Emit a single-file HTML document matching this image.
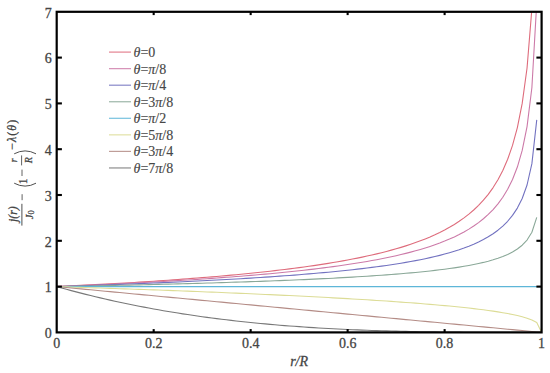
<!DOCTYPE html>
<html><head><meta charset="utf-8"><style>
html,body{margin:0;padding:0;background:#fff;}
body{width:550px;height:373px;overflow:hidden;}
svg{display:block;}
.lg{fill:#474747;stroke:#474747;stroke-width:0.2px;}
text{font-family:"Liberation Serif",serif;font-size:14px;fill:#444444;stroke:#444444;stroke-width:0.28px;}
</style></head><body>
<svg width="550" height="373" viewBox="0 0 550 373">
<defs><clipPath id="c"><rect x="56.7" y="11.8" width="484.90000000000003" height="320.59999999999997"/></clipPath></defs>
<rect width="550" height="373" fill="#fff"/>
<g clip-path="url(#c)" fill="none" stroke-width="1.1" stroke-linejoin="round">
<polyline points="56.70,286.60 61.55,286.37 66.40,286.14 71.25,285.90 76.10,285.66 80.95,285.41 85.79,285.16 90.64,284.91 95.49,284.65 100.34,284.39 105.19,284.12 110.04,283.85 114.89,283.58 119.74,283.30 124.59,283.01 129.44,282.72 134.28,282.43 139.13,282.13 143.98,281.82 148.83,281.51 153.68,281.19 158.53,280.87 163.38,280.54 168.23,280.21 173.08,279.86 177.93,279.51 182.77,279.16 187.62,278.80 192.47,278.42 197.32,278.05 202.17,277.66 207.02,277.26 211.87,276.86 216.72,276.45 221.57,276.02 226.42,275.59 231.26,275.15 236.11,274.70 240.96,274.23 245.81,273.76 250.66,273.27 255.51,272.77 260.36,272.26 265.21,271.74 270.06,271.20 274.91,270.64 279.75,270.07 284.60,269.49 289.45,268.89 294.30,268.27 299.15,267.63 304.00,266.97 308.85,266.29 313.70,265.59 318.55,264.87 323.40,264.13 328.24,263.35 333.09,262.56 337.94,261.73 342.79,260.87 347.64,259.98 352.49,259.06 357.34,258.10 362.19,257.11 367.04,256.07 371.89,254.98 376.73,253.85 381.58,252.67 386.43,251.44 391.28,250.14 396.13,248.78 400.98,247.35 405.83,245.85 410.68,244.26 415.53,242.58 420.38,240.80 425.22,238.91 430.07,236.90 434.92,234.75 439.77,232.46 444.62,229.99 449.47,227.33 454.32,224.45 459.17,221.32 464.02,217.90 468.87,214.14 473.71,209.99 478.56,205.37 483.41,200.19 488.26,194.31 493.11,187.57 497.96,179.73 502.81,170.47 507.66,159.29 512.51,145.42 517.36,127.58 522.20,103.40 527.05,67.97 531.90,8.55 536.75,-125.60" stroke="#de6c7c" />
<polyline points="56.70,286.60 61.55,286.40 66.40,286.20 71.25,286.00 76.10,285.79 80.95,285.58 85.79,285.37 90.64,285.15 95.49,284.93 100.34,284.71 105.19,284.48 110.04,284.25 114.89,284.02 119.74,283.78 124.59,283.54 129.44,283.30 134.28,283.05 139.13,282.79 143.98,282.53 148.83,282.27 153.68,282.00 158.53,281.73 163.38,281.45 168.23,281.17 173.08,280.88 177.93,280.59 182.77,280.29 187.62,279.99 192.47,279.68 197.32,279.36 202.17,279.04 207.02,278.71 211.87,278.37 216.72,278.02 221.57,277.67 226.42,277.31 231.26,276.95 236.11,276.57 240.96,276.19 245.81,275.79 250.66,275.39 255.51,274.98 260.36,274.56 265.21,274.12 270.06,273.68 274.91,273.22 279.75,272.76 284.60,272.28 289.45,271.79 294.30,271.28 299.15,270.76 304.00,270.22 308.85,269.67 313.70,269.10 318.55,268.52 323.40,267.91 328.24,267.29 333.09,266.64 337.94,265.98 342.79,265.29 347.64,264.57 352.49,263.83 357.34,263.06 362.19,262.27 367.04,261.44 371.89,260.58 376.73,259.68 381.58,258.74 386.43,257.76 391.28,256.74 396.13,255.67 400.98,254.55 405.83,253.37 410.68,252.13 415.53,250.82 420.38,249.44 425.22,247.97 430.07,246.42 434.92,244.76 439.77,243.00 444.62,241.11 449.47,239.08 454.32,236.89 459.17,234.52 464.02,231.95 468.87,229.13 473.71,226.03 478.56,222.60 483.41,218.77 488.26,214.45 493.11,209.53 497.96,203.86 502.81,197.20 507.66,189.24 512.51,179.46 517.36,167.03 522.20,150.44 527.05,126.56 531.90,87.50 536.75,2.78" stroke="#cc7aa8" />
<polyline points="56.70,286.60 61.55,286.45 66.40,286.29 71.25,286.13 76.10,285.97 80.95,285.81 85.79,285.65 90.64,285.48 95.49,285.31 100.34,285.14 105.19,284.96 110.04,284.79 114.89,284.61 119.74,284.42 124.59,284.24 129.44,284.05 134.28,283.86 139.13,283.67 143.98,283.47 148.83,283.27 153.68,283.06 158.53,282.86 163.38,282.65 168.23,282.43 173.08,282.21 177.93,281.99 182.77,281.76 187.62,281.53 192.47,281.30 197.32,281.06 202.17,280.82 207.02,280.57 211.87,280.32 216.72,280.06 221.57,279.80 226.42,279.53 231.26,279.25 236.11,278.97 240.96,278.69 245.81,278.40 250.66,278.10 255.51,277.79 260.36,277.48 265.21,277.16 270.06,276.83 274.91,276.50 279.75,276.16 284.60,275.81 289.45,275.45 294.30,275.08 299.15,274.70 304.00,274.31 308.85,273.91 313.70,273.49 318.55,273.07 323.40,272.63 328.24,272.18 333.09,271.72 337.94,271.24 342.79,270.75 347.64,270.24 352.49,269.71 357.34,269.17 362.19,268.60 367.04,268.02 371.89,267.41 376.73,266.78 381.58,266.12 386.43,265.44 391.28,264.73 396.13,263.98 400.98,263.21 405.83,262.39 410.68,261.54 415.53,260.64 420.38,259.70 425.22,258.70 430.07,257.65 434.92,256.53 439.77,255.35 444.62,254.08 449.47,252.73 454.32,251.28 459.17,249.72 464.02,248.04 468.87,246.20 473.71,244.20 478.56,241.99 483.41,239.55 488.26,236.81 493.11,233.73 497.96,230.20 502.81,226.11 507.66,221.27 512.51,215.41 517.36,208.08 522.20,198.48 527.05,185.00 531.90,163.67 536.75,119.82" stroke="#7272c0" />
<polyline points="56.70,286.60 61.55,286.51 66.40,286.41 71.25,286.32 76.10,286.22 80.95,286.13 85.79,286.03 90.64,285.93 95.49,285.83 100.34,285.73 105.19,285.62 110.04,285.52 114.89,285.41 119.74,285.31 124.59,285.20 129.44,285.09 134.28,284.97 139.13,284.86 143.98,284.75 148.83,284.63 153.68,284.51 158.53,284.39 163.38,284.27 168.23,284.14 173.08,284.02 177.93,283.89 182.77,283.76 187.62,283.62 192.47,283.49 197.32,283.35 202.17,283.21 207.02,283.07 211.87,282.93 216.72,282.78 221.57,282.63 226.42,282.48 231.26,282.32 236.11,282.17 240.96,282.01 245.81,281.84 250.66,281.67 255.51,281.50 260.36,281.33 265.21,281.15 270.06,280.97 274.91,280.78 279.75,280.59 284.60,280.40 289.45,280.20 294.30,280.00 299.15,279.79 304.00,279.58 308.85,279.36 313.70,279.13 318.55,278.90 323.40,278.67 328.24,278.43 333.09,278.18 337.94,277.92 342.79,277.66 347.64,277.39 352.49,277.11 357.34,276.82 362.19,276.52 367.04,276.22 371.89,275.90 376.73,275.57 381.58,275.23 386.43,274.88 391.28,274.51 396.13,274.13 400.98,273.73 405.83,273.32 410.68,272.89 415.53,272.44 420.38,271.97 425.22,271.47 430.07,270.95 434.92,270.40 439.77,269.82 444.62,269.21 449.47,268.56 454.32,267.86 459.17,267.12 464.02,266.32 468.87,265.47 473.71,264.54 478.56,263.52 483.41,262.41 488.26,261.18 493.11,259.81 497.96,258.27 502.81,256.50 507.66,254.44 512.51,252.00 517.36,249.02 522.20,245.21 527.05,240.05 531.90,232.25 536.75,217.36" stroke="#8aa898" />
<polyline points="56.70,286.60 61.55,286.60 66.40,286.60 71.25,286.60 76.10,286.60 80.95,286.60 85.79,286.60 90.64,286.60 95.49,286.60 100.34,286.60 105.19,286.60 110.04,286.60 114.89,286.60 119.74,286.60 124.59,286.60 129.44,286.60 134.28,286.60 139.13,286.60 143.98,286.60 148.83,286.60 153.68,286.60 158.53,286.60 163.38,286.60 168.23,286.60 173.08,286.60 177.93,286.60 182.77,286.60 187.62,286.60 192.47,286.60 197.32,286.60 202.17,286.60 207.02,286.60 211.87,286.60 216.72,286.60 221.57,286.60 226.42,286.60 231.26,286.60 236.11,286.60 240.96,286.60 245.81,286.60 250.66,286.60 255.51,286.60 260.36,286.60 265.21,286.60 270.06,286.60 274.91,286.60 279.75,286.60 284.60,286.60 289.45,286.60 294.30,286.60 299.15,286.60 304.00,286.60 308.85,286.60 313.70,286.60 318.55,286.60 323.40,286.60 328.24,286.60 333.09,286.60 337.94,286.60 342.79,286.60 347.64,286.60 352.49,286.60 357.34,286.60 362.19,286.60 367.04,286.60 371.89,286.60 376.73,286.60 381.58,286.60 386.43,286.60 391.28,286.60 396.13,286.60 400.98,286.60 405.83,286.60 410.68,286.60 415.53,286.60 420.38,286.60 425.22,286.60 430.07,286.60 434.92,286.60 439.77,286.60 444.62,286.60 449.47,286.60 454.32,286.60 459.17,286.60 464.02,286.60 468.87,286.60 473.71,286.60 478.56,286.60 483.41,286.60 488.26,286.60 493.11,286.60 497.96,286.60 502.81,286.60 507.66,286.60 512.51,286.60 517.36,286.60 522.20,286.60 527.05,286.60 531.90,286.60 536.75,286.60 541.60,286.60" stroke="#5eb6d8" />
<polyline points="56.70,286.60 61.55,286.75 66.40,286.91 71.25,287.06 76.10,287.22 80.95,287.38 85.79,287.53 90.64,287.69 95.49,287.86 100.34,288.02 105.19,288.18 110.04,288.34 114.89,288.51 119.74,288.68 124.59,288.85 129.44,289.02 134.28,289.19 139.13,289.36 143.98,289.53 148.83,289.71 153.68,289.88 158.53,290.06 163.38,290.24 168.23,290.42 173.08,290.60 177.93,290.79 182.77,290.97 187.62,291.16 192.47,291.35 197.32,291.54 202.17,291.73 207.02,291.93 211.87,292.13 216.72,292.32 221.57,292.52 226.42,292.73 231.26,292.93 236.11,293.14 240.96,293.35 245.81,293.56 250.66,293.77 255.51,293.99 260.36,294.20 265.21,294.43 270.06,294.65 274.91,294.88 279.75,295.10 284.60,295.34 289.45,295.57 294.30,295.81 299.15,296.05 304.00,296.29 308.85,296.54 313.70,296.79 318.55,297.04 323.40,297.30 328.24,297.56 333.09,297.83 337.94,298.10 342.79,298.38 347.64,298.65 352.49,298.94 357.34,299.23 362.19,299.52 367.04,299.82 371.89,300.12 376.73,300.43 381.58,300.75 386.43,301.07 391.28,301.40 396.13,301.74 400.98,302.08 405.83,302.44 410.68,302.80 415.53,303.17 420.38,303.55 425.22,303.94 430.07,304.34 434.92,304.75 439.77,305.18 444.62,305.62 449.47,306.07 454.32,306.54 459.17,307.03 464.02,307.54 468.87,308.07 473.71,308.62 478.56,309.20 483.41,309.81 488.26,310.46 493.11,311.14 497.96,311.88 502.81,312.67 507.66,313.52 512.51,314.47 517.36,315.53 522.20,316.74 527.05,318.17 531.90,319.97 536.75,322.53 541.60,332.40" stroke="#dcdc96" />
<polyline points="56.70,286.60 61.55,287.06 66.40,287.52 71.25,287.97 76.10,288.43 80.95,288.89 85.79,289.35 90.64,289.81 95.49,290.26 100.34,290.72 105.19,291.18 110.04,291.64 114.89,292.10 119.74,292.55 124.59,293.01 129.44,293.47 134.28,293.93 139.13,294.39 143.98,294.84 148.83,295.30 153.68,295.76 158.53,296.22 163.38,296.68 168.23,297.13 173.08,297.59 177.93,298.05 182.77,298.51 187.62,298.97 192.47,299.42 197.32,299.88 202.17,300.34 207.02,300.80 211.87,301.26 216.72,301.71 221.57,302.17 226.42,302.63 231.26,303.09 236.11,303.55 240.96,304.00 245.81,304.46 250.66,304.92 255.51,305.38 260.36,305.84 265.21,306.29 270.06,306.75 274.91,307.21 279.75,307.67 284.60,308.13 289.45,308.58 294.30,309.04 299.15,309.50 304.00,309.96 308.85,310.42 313.70,310.87 318.55,311.33 323.40,311.79 328.24,312.25 333.09,312.71 337.94,313.16 342.79,313.62 347.64,314.08 352.49,314.54 357.34,315.00 362.19,315.45 367.04,315.91 371.89,316.37 376.73,316.83 381.58,317.29 386.43,317.74 391.28,318.20 396.13,318.66 400.98,319.12 405.83,319.58 410.68,320.03 415.53,320.49 420.38,320.95 425.22,321.41 430.07,321.87 434.92,322.32 439.77,322.78 444.62,323.24 449.47,323.70 454.32,324.16 459.17,324.61 464.02,325.07 468.87,325.53 473.71,325.99 478.56,326.45 483.41,326.90 488.26,327.36 493.11,327.82 497.96,328.28 502.81,328.74 507.66,329.19 512.51,329.65 517.36,330.11 522.20,330.57 527.05,331.03 531.90,331.48 536.75,331.94 541.60,332.40" stroke="#b48c86" />
<polyline points="56.70,286.60 61.55,287.96 66.40,289.29 71.25,290.60 76.10,291.88 80.95,293.13 85.79,294.36 90.64,295.56 95.49,296.74 100.34,297.89 105.19,299.01 110.04,300.11 114.89,301.19 119.74,302.24 124.59,303.27 129.44,304.27 134.28,305.25 139.13,306.21 143.98,307.15 148.83,308.06 153.68,308.95 158.53,309.82 163.38,310.67 168.23,311.49 173.08,312.29 177.93,313.08 182.77,313.84 187.62,314.58 192.47,315.31 197.32,316.01 202.17,316.69 207.02,317.35 211.87,318.00 216.72,318.63 221.57,319.23 226.42,319.82 231.26,320.39 236.11,320.95 240.96,321.48 245.81,322.00 250.66,322.51 255.51,322.99 260.36,323.46 265.21,323.92 270.06,324.36 274.91,324.78 279.75,325.19 284.60,325.58 289.45,325.96 294.30,326.32 299.15,326.67 304.00,327.01 308.85,327.33 313.70,327.64 318.55,327.94 323.40,328.23 328.24,328.50 333.09,328.76 337.94,329.01 342.79,329.24 347.64,329.47 352.49,329.68 357.34,329.89 362.19,330.08 367.04,330.26 371.89,330.44 376.73,330.60 381.58,330.75 386.43,330.90 391.28,331.04 396.13,331.16 400.98,331.28 405.83,331.39 410.68,331.50 415.53,331.60 420.38,331.68 425.22,331.77 430.07,331.84 434.92,331.91 439.77,331.98 444.62,332.03 449.47,332.09 454.32,332.13 459.17,332.17 464.02,332.21 468.87,332.25 473.71,332.27 478.56,332.30 483.41,332.32 488.26,332.34 493.11,332.35 497.96,332.37 502.81,332.38 507.66,332.38 512.51,332.39 517.36,332.39 522.20,332.40 527.05,332.40 531.90,332.40 536.75,332.40 541.60,332.40" stroke="#787878" />
</g>
<g stroke="#000" stroke-width="2.1">
<line x1="153.68" y1="332.40" x2="153.68" y2="329.10"/>
<line x1="153.68" y1="11.80" x2="153.68" y2="15.10"/>
<line x1="250.66" y1="332.40" x2="250.66" y2="329.10"/>
<line x1="250.66" y1="11.80" x2="250.66" y2="15.10"/>
<line x1="347.64" y1="332.40" x2="347.64" y2="329.10"/>
<line x1="347.64" y1="11.80" x2="347.64" y2="15.10"/>
<line x1="444.62" y1="332.40" x2="444.62" y2="329.10"/>
<line x1="444.62" y1="11.80" x2="444.62" y2="15.10"/>
<line x1="56.70" y1="286.60" x2="61.90" y2="286.60"/>
<line x1="541.60" y1="286.60" x2="536.40" y2="286.60"/>
<line x1="56.70" y1="240.80" x2="61.90" y2="240.80"/>
<line x1="541.60" y1="240.80" x2="536.40" y2="240.80"/>
<line x1="56.70" y1="195.00" x2="61.90" y2="195.00"/>
<line x1="541.60" y1="195.00" x2="536.40" y2="195.00"/>
<line x1="56.70" y1="149.20" x2="61.90" y2="149.20"/>
<line x1="541.60" y1="149.20" x2="536.40" y2="149.20"/>
<line x1="56.70" y1="103.40" x2="61.90" y2="103.40"/>
<line x1="541.60" y1="103.40" x2="536.40" y2="103.40"/>
<line x1="56.70" y1="57.60" x2="61.90" y2="57.60"/>
<line x1="541.60" y1="57.60" x2="536.40" y2="57.60"/>
</g>
<rect x="56.7" y="11.8" width="484.90" height="320.60" fill="none" stroke="#000" stroke-width="2.2"/>
<g>
<text x="56.70" y="347.8" text-anchor="middle">0</text>
<text x="153.68" y="347.8" text-anchor="middle">0.2</text>
<text x="250.66" y="347.8" text-anchor="middle">0.4</text>
<text x="347.64" y="347.8" text-anchor="middle">0.6</text>
<text x="444.62" y="347.8" text-anchor="middle">0.8</text>
<text x="541.60" y="347.8" text-anchor="middle">1</text>
<text x="51.8" y="338.10" text-anchor="end">0</text>
<text x="51.8" y="292.30" text-anchor="end">1</text>
<text x="51.8" y="246.50" text-anchor="end">2</text>
<text x="51.8" y="200.70" text-anchor="end">3</text>
<text x="51.8" y="154.90" text-anchor="end">4</text>
<text x="51.8" y="109.10" text-anchor="end">5</text>
<text x="51.8" y="63.30" text-anchor="end">6</text>
<text x="51.8" y="17.50" text-anchor="end">7</text>
</g>
<g stroke-width="1.2" stroke-opacity="0.85">
<line x1="109" y1="52.10" x2="131" y2="52.10" stroke="#de6c7c"/>
<text class="lg" x="133.5" y="57.00"><tspan font-style="italic">θ</tspan>=<tspan>0</tspan></text>
<line x1="109" y1="68.65" x2="131" y2="68.65" stroke="#cc7aa8"/>
<text class="lg" x="133.5" y="73.55"><tspan font-style="italic">θ</tspan>=<tspan><tspan font-style='italic'>π</tspan>/8</tspan></text>
<line x1="109" y1="85.20" x2="131" y2="85.20" stroke="#7272c0"/>
<text class="lg" x="133.5" y="90.10"><tspan font-style="italic">θ</tspan>=<tspan><tspan font-style='italic'>π</tspan>/4</tspan></text>
<line x1="109" y1="101.75" x2="131" y2="101.75" stroke="#8aa898"/>
<text class="lg" x="133.5" y="106.65"><tspan font-style="italic">θ</tspan>=<tspan>3<tspan font-style='italic'>π</tspan>/8</tspan></text>
<line x1="109" y1="118.30" x2="131" y2="118.30" stroke="#5eb6d8"/>
<text class="lg" x="133.5" y="123.20"><tspan font-style="italic">θ</tspan>=<tspan><tspan font-style='italic'>π</tspan>/2</tspan></text>
<line x1="109" y1="134.85" x2="131" y2="134.85" stroke="#dcdc96"/>
<text class="lg" x="133.5" y="139.75"><tspan font-style="italic">θ</tspan>=<tspan>5<tspan font-style='italic'>π</tspan>/8</tspan></text>
<line x1="109" y1="151.40" x2="131" y2="151.40" stroke="#b48c86"/>
<text class="lg" x="133.5" y="156.30"><tspan font-style="italic">θ</tspan>=<tspan>3<tspan font-style='italic'>π</tspan>/4</tspan></text>
<line x1="109" y1="167.95" x2="131" y2="167.95" stroke="#787878"/>
<text class="lg" x="133.5" y="172.85"><tspan font-style="italic">θ</tspan>=<tspan>7<tspan font-style='italic'>π</tspan>/8</tspan></text>
</g>
<text x="299.1" y="366.2" text-anchor="middle" font-style="italic">r/R</text>
<g transform="translate(0,225.6) rotate(-90)" fill="#3a3a3a">
  <text x="11.45" y="17.2" text-anchor="middle" style="font-size:11.8px" font-style="italic">j(r)</text>
  <line x1="0" y1="21.9" x2="21.8" y2="21.9" stroke="#3a3a3a" stroke-width="0.9"/>
  <text x="6.4" y="33.3" style="font-size:10.5px" font-style="italic">J<tspan font-style="normal" style="font-size:8.5px" dy="0.2">0</tspan></text>
  <line x1="25.4" y1="22.1" x2="31.4" y2="22.1" stroke="#3a3a3a" stroke-width="0.8"/>
  <path d="M42.4,14.2 Q36.6,25.1 42.4,36" fill="none" stroke="#3a3a3a" stroke-width="0.9"/>
  <text x="44.2" y="26.8" text-anchor="middle" style="font-size:11.5px">1</text>
  <line x1="49.6" y1="22" x2="56" y2="22" stroke="#3a3a3a" stroke-width="0.8"/>
  <text x="65.2" y="16.6" text-anchor="middle" style="font-size:9.5px" font-style="italic">r</text>
  <line x1="60.2" y1="21.6" x2="70.2" y2="21.6" stroke="#3a3a3a" stroke-width="0.8"/>
  <text x="65.4" y="31.8" text-anchor="middle" style="font-size:10px" font-style="italic">R</text>
  <path d="M71.8,14.2 Q77.6,25.1 71.8,36" fill="none" stroke="#3a3a3a" stroke-width="0.9"/>
  <text x="75.9" y="16.1" style="font-size:12px;letter-spacing:1px">−<tspan font-style="italic">λ</tspan>(<tspan font-style="italic">θ</tspan>)</text>
</g>
</svg>
</body></html>
